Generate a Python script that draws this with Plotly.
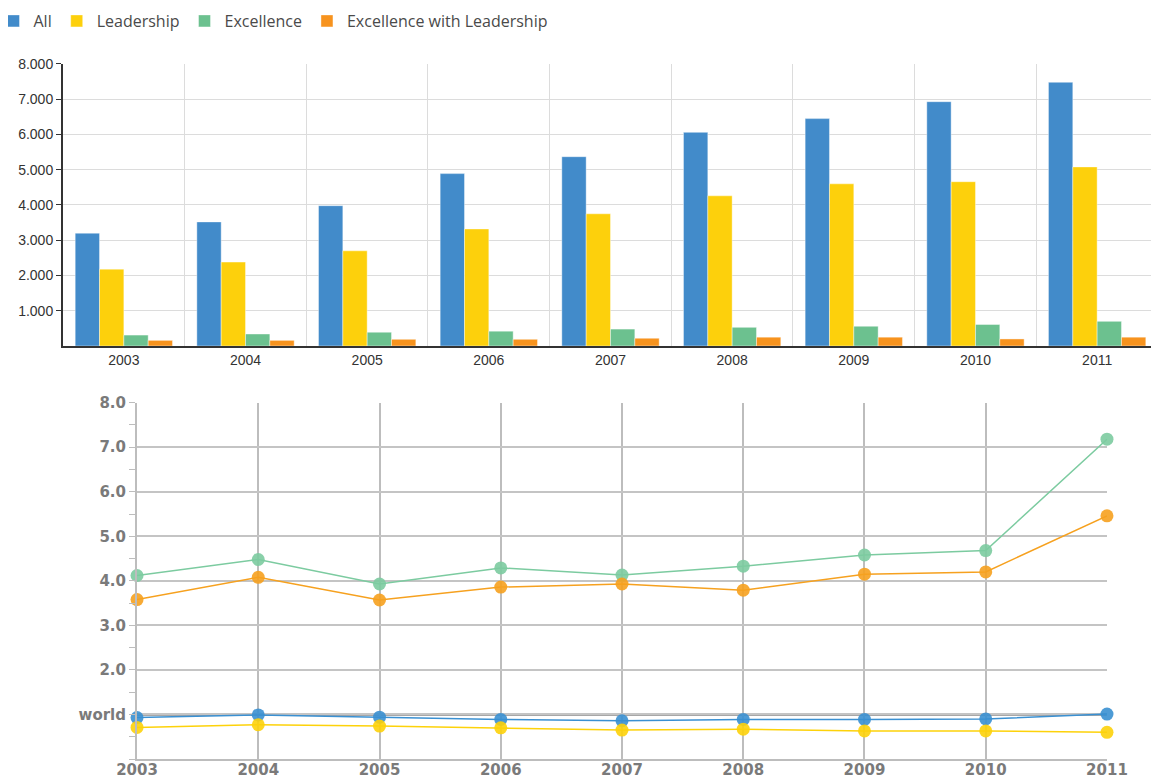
import plotly.graph_objects as go

years = ["2003", "2004", "2005", "2006", "2007", "2008", "2009", "2010", "2011"]
year_nums = [2003, 2004, 2005, 2006, 2007, 2008, 2009, 2010, 2011]

# top panel: counts
count_all = [3200, 3520, 3980, 4890, 5370, 6060, 6450, 6930, 7480]
count_leadership = [2180, 2380, 2700, 3320, 3750, 4260, 4600, 4660, 5080]
count_excellence = [310, 340, 390, 420, 480, 530, 560, 610, 700]
count_exc_lead = [160, 160, 190, 190, 220, 250, 250, 200, 250]

# bottom panel: ratio vs world (world = 1.0)
ratio_all = [0.93, 0.99, 0.94, 0.89, 0.86, 0.89, 0.89, 0.90, 1.01]
ratio_leadership = [0.71, 0.77, 0.74, 0.70, 0.65, 0.67, 0.63, 0.63, 0.60]
ratio_excellence = [4.12, 4.48, 3.93, 4.29, 4.13, 4.33, 4.58, 4.68, 7.18]
ratio_exc_lead = [3.58, 4.08, 3.57, 3.86, 3.93, 3.79, 4.15, 4.20, 5.46]
world = 1.0

top_ticks = [1000, 2000, 3000, 4000, 5000, 6000, 7000, 8000]
top_ticktext = ["1.000", "2.000", "3.000", "4.000", "5.000", "6.000", "7.000", "8.000"]
bottom_ticks = [1, 2, 3, 4, 5, 6, 7, 8]
bottom_ticktext = ["world", "2.0", "3.0", "4.0", "5.0", "6.0", "7.0", "8.0"]

names = ["All", "Leadership", "Excellence", "Excellence with Leadership"]
bar_colors = ["#428bca", "#fdd00c", "#6cc18f", "#f7931e"]
line_colors = ["#3a90d2", "#fdd20a", "#7ccba0", "#f6a11f"]

fig = go.Figure()

for name, vals, color in zip(names, [count_all, count_leadership, count_excellence, count_exc_lead], bar_colors):
    fig.add_trace(go.Bar(
        x=years, y=vals, name=name,
        marker=dict(color=color, line=dict(color="rgba(255,255,255,0.4)", width=1)),
        xaxis="x", yaxis="y",
    ))

for vals, color in zip([ratio_all, ratio_leadership, ratio_excellence, ratio_exc_lead], line_colors):
    fig.add_trace(go.Scatter(
        x=year_nums, y=vals, mode="lines+markers",
        line=dict(color=color, width=1.5),
        marker=dict(color=color, size=13, opacity=0.9),
        showlegend=False, cliponaxis=False,
        xaxis="x2", yaxis="y2",
    ))

fig.add_shape(type="line", xref="x2", yref="y2", x0=year_nums[0], x1=year_nums[-1],
              y0=world, y1=world, line=dict(color="#8a8a8a", width=2.5), layer="below")

bold_font = dict(family="DejaVu Sans", size=15, color="#7a7a7a", weight="bold")
top_font = dict(family="Liberation Sans, Arial", size=14, color="#333")

# the page body adds 8px, so the figure is sized to fit the window exactly
fig.update_layout(
    width=1151, height=771,
    margin=dict(l=0, r=0, t=0, b=0, autoexpand=False),
    plot_bgcolor="white", paper_bgcolor="white",
    bargap=0.2, bargroupgap=0,
    font=dict(family="Liberation Sans, Arial", size=13, color="#333"),
    legend=dict(
        orientation="h", x=-0.0126, y=1.0052, xanchor="left", yanchor="top",
        font=dict(family="Open Sans", size=16, color="#4a4a4a"),
        itemclick=False,
    ),
    xaxis=dict(
        domain=[0.0478, 0.9991], anchor="y", type="category", automargin=False,
        tickson="boundaries", showgrid=True, gridcolor="#dcdcdc",
        showline=True, linecolor="#333", linewidth=2, ticks="",
        tickfont=top_font,
    ),
    yaxis=dict(
        domain=[0.5616, 0.9274], anchor="x", range=[0, 8000], automargin=False,
        tickvals=top_ticks, ticktext=top_ticktext,
        showgrid=True, gridcolor="#dcdcdc", zeroline=False,
        showline=True, linecolor="#333", linewidth=2,
        ticks="outside", ticklen=5, tickcolor="#333",
        tickfont=top_font,
    ),
    xaxis2=dict(
        domain=[0.1121, 0.9548], anchor="y2", range=[2003, 2011], automargin=False,
        tickvals=year_nums, ticktext=years,
        showgrid=True, gridcolor="#bdbdbd", gridwidth=1.5,
        showline=True, linecolor="#bdbdbd", linewidth=2, zeroline=False,
        ticks="", tickfont=bold_font, ticklabelstandoff=-4,
    ),
    yaxis2=dict(
        domain=[0.0259, 0.4881], anchor="x2", range=[0, 8], automargin=False,
        tickvals=bottom_ticks, ticktext=bottom_ticktext,
        showgrid=True, gridcolor="#c4c4c4", gridwidth=1.5,
        showline=True, linecolor="#bdbdbd", linewidth=2, zeroline=False,
        ticks="outside", ticklen=6, tickcolor="#bdbdbd",
        minor=dict(dtick=0.5, tick0=0, ticks="outside", ticklen=6, tickcolor="#bdbdbd", showgrid=False),
        tickfont=bold_font,
    ),
)

fig.write_html("out.html")
